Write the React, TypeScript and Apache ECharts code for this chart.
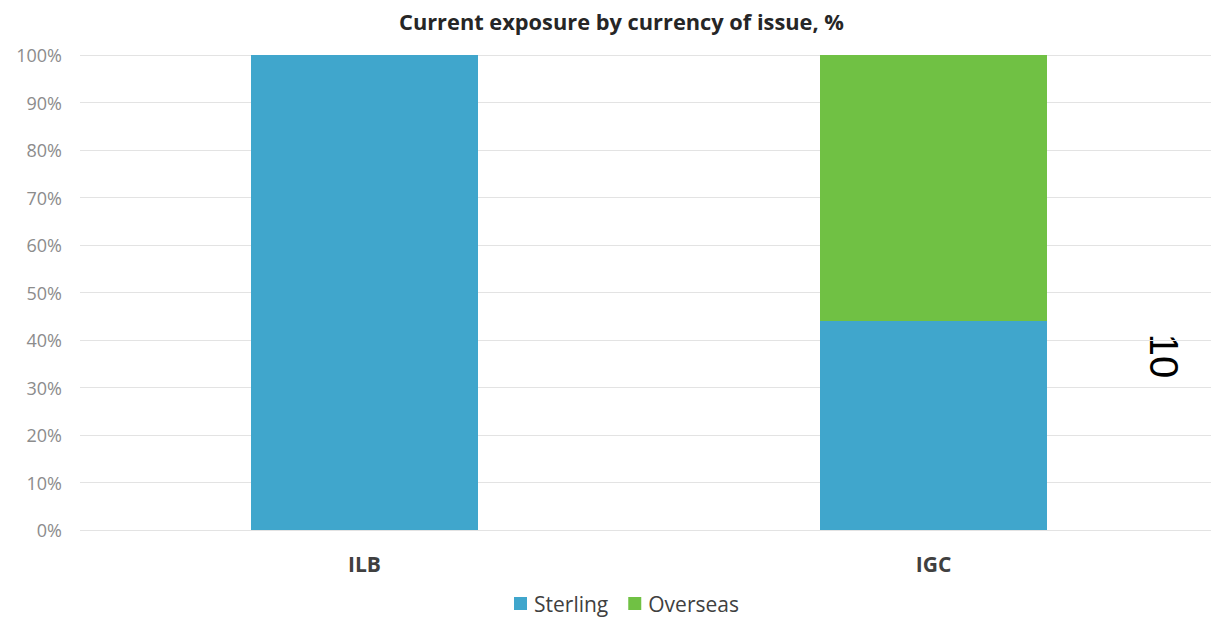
import React, { useEffect, useRef } from "react";
import * as echarts from "echarts";

const categories = ["ILB", "IGC"];
const sterling = [100, 44];
const overseas = [0, 56];
const yTicks = [0, 10, 20, 30, 40, 50, 60, 70, 80, 90, 100];

export default function App() {
  const ref = useRef<HTMLDivElement>(null);
  useEffect(() => {
    if (!ref.current) return;
    const chart = echarts.init(ref.current, undefined, { renderer: "svg" });
    chart.setOption({
      animation: false,
      title: {
        text: "Current exposure by currency of issue, %",
        left: 394,
        top: 5,
        textStyle: { fontFamily: "Open Sans", fontWeight: "bold", fontSize: 21.8, color: "#262626" },
      },
      grid: { left: 80, width: 1138, top: 55, bottom: 89, containLabel: false, outerBoundsMode: "none" },
      legend: {
        bottom: 0,
        left: 509,
        itemWidth: 13,
        itemHeight: 13,
        itemGap: 20,
        icon: "rect",
        textStyle: { fontFamily: "Open Sans", fontSize: 21, color: "#404040", padding: [0, 0, 0, 2] },
        data: ["Sterling", "Overseas"],
      },
      xAxis: {
        type: "category",
        data: categories,
        axisLine: { show: false },
        axisTick: { show: false },
        axisLabel: {
          margin: 23,
          fontFamily: "Open Sans",
          fontWeight: "bold",
          fontSize: 21,
          color: "#404040",
        },
      },
      yAxis: {
        type: "value",
        min: yTicks[0],
        max: yTicks[yTicks.length - 1],
        interval: 10,
        axisLabel: {
          formatter: "{value}%",
          margin: 18,
          fontFamily: "Open Sans",
          fontSize: 18,
          color: "#8c8c8c",
        },
        splitLine: { lineStyle: { color: "#e3e3e3", width: 1 } },
        axisLine: { show: false },
        axisTick: { show: false },
      },
      series: [
        {
          name: "Sterling",
          type: "bar",
          stack: "a",
          barWidth: 227,
          data: sterling,
          itemStyle: { color: "#40A6CC" },
        },
        {
          name: "Overseas",
          type: "bar",
          stack: "a",
          barWidth: 227,
          data: overseas,
          itemStyle: { color: "#70C144" },
        },
      ],
      graphic: [
        {
          type: "text",
          x: 1164,
          y: 356,
          rotation: -Math.PI / 2,
          style: {
            text: "10",
            fontFamily: "Liberation Sans",
            fontSize: 40,
            fill: "#000000",
            align: "center",
            verticalAlign: "middle",
          },
        },
      ],
    });
    return () => chart.dispose();
  }, []);
  return (
    <div
      ref={ref}
      style={{ position: "absolute", left: 0, top: 0, width: 1211, height: 619, background: "#fff" }}
    />
  );
}
